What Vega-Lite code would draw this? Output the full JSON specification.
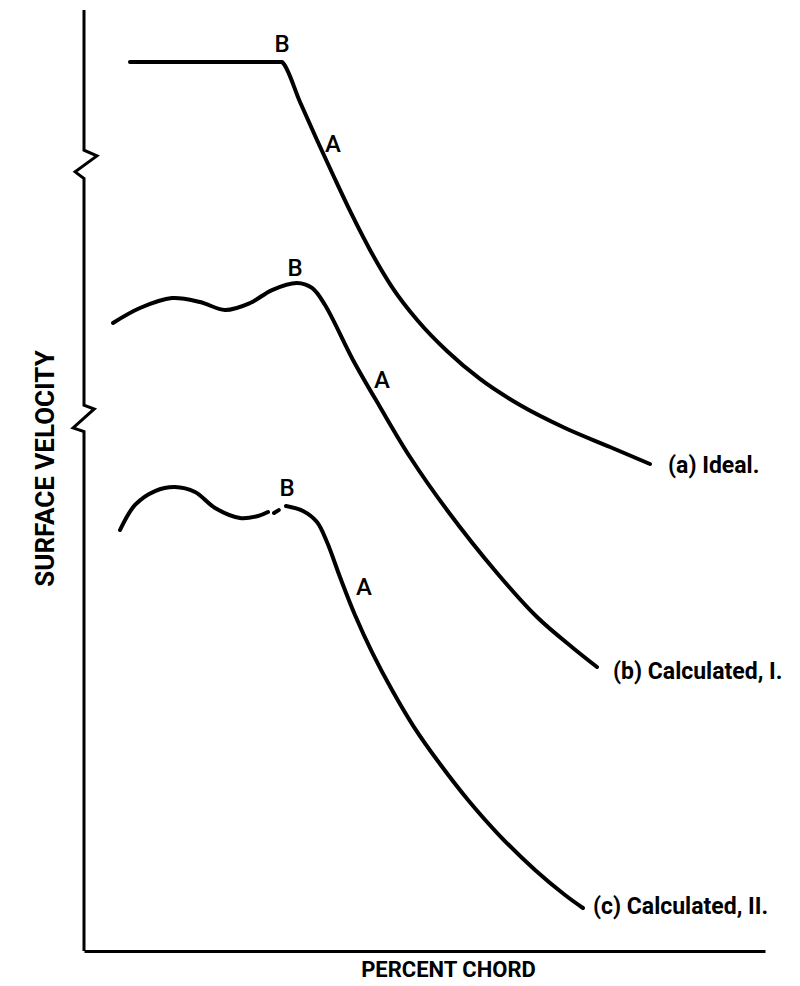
{
  "$schema": "https://vega.github.io/schema/vega-lite/v6.json",
  "width": 681,
  "height": 941,
  "autosize": "none",
  "padding": {"left": 84, "top": 10, "right": 35, "bottom": 35},
  "background": "white",
  "config": {
    "view": {"stroke": null},
    "font": "Roboto, Liberation Sans, sans-serif"
  },
  "datasets": {
    "axisLine": [
      {"seq": 1, "x": 0, "v": 100},
      {"seq": 2, "x": 0, "v": 85.1},
      {"seq": 3, "x": 1.9, "v": 84.5},
      {"seq": 4, "x": -1.3, "v": 82.8},
      {"seq": 5, "x": 0, "v": 82.1},
      {"seq": 6, "x": 0, "v": 58.0},
      {"seq": 7, "x": 1.5, "v": 57.6},
      {"seq": 8, "x": -1.6, "v": 55.6},
      {"seq": 9, "x": 0, "v": 55.2},
      {"seq": 10, "x": 0, "v": 0}
    ],
    "ideal": [
      {"seg": "a", "x": 6.75, "v": 94.47},
      {"seg": "a", "x": 29.07, "v": 94.47},
      {"seg": "a", "x": 29.22, "v": 94.37},
      {"seg": "a", "x": 31.72, "v": 90.22},
      {"seg": "a", "x": 34.21, "v": 86.18},
      {"seg": "a", "x": 36.71, "v": 82.25},
      {"seg": "a", "x": 39.21, "v": 78.43},
      {"seg": "a", "x": 42.0, "v": 74.5},
      {"seg": "a", "x": 45.23, "v": 70.56},
      {"seg": "a", "x": 49.05, "v": 66.95},
      {"seg": "a", "x": 53.3, "v": 63.76},
      {"seg": "a", "x": 58.15, "v": 60.79},
      {"seg": "a", "x": 64.02, "v": 58.02},
      {"seg": "a", "x": 70.63, "v": 55.58},
      {"seg": "a", "x": 77.24, "v": 53.56},
      {"seg": "a", "x": 83.11, "v": 51.75}
    ],
    "calculated": [
      {"seg": "b", "x": 4.26, "v": 66.74},
      {"seg": "b", "x": 8.22, "v": 68.33},
      {"seg": "b", "x": 12.92, "v": 69.39},
      {"seg": "b", "x": 17.03, "v": 68.97},
      {"seg": "b", "x": 20.7, "v": 68.12},
      {"seg": "b", "x": 24.38, "v": 68.86},
      {"seg": "b", "x": 27.61, "v": 70.24},
      {"seg": "b", "x": 31.28, "v": 70.99},
      {"seg": "b", "x": 33.48, "v": 70.46},
      {"seg": "b", "x": 35.39, "v": 68.65},
      {"seg": "b", "x": 39.5, "v": 62.81},
      {"seg": "b", "x": 43.47, "v": 57.81},
      {"seg": "b", "x": 47.87, "v": 52.5},
      {"seg": "b", "x": 53.3, "v": 46.87},
      {"seg": "b", "x": 60.65, "v": 40.17},
      {"seg": "b", "x": 66.52, "v": 35.49},
      {"seg": "b", "x": 71.81, "v": 32.2},
      {"seg": "b", "x": 75.33, "v": 30.18},

      {"seg": "c1", "x": 5.29, "v": 44.74},
      {"seg": "c1", "x": 7.49, "v": 47.4},
      {"seg": "c1", "x": 10.43, "v": 48.88},
      {"seg": "c1", "x": 13.36, "v": 49.31},
      {"seg": "c1", "x": 16.3, "v": 48.78},
      {"seg": "c1", "x": 19.24, "v": 47.08},
      {"seg": "c1", "x": 22.91, "v": 46.02},
      {"seg": "c1", "x": 25.55, "v": 46.23},
      {"seg": "c1", "x": 27.02, "v": 46.65},

      {"seg": "c0", "x": 27.9, "v": 46.55},
      {"seg": "c0", "x": 28.6, "v": 46.85},

      {"seg": "c2", "x": 29.66, "v": 47.29},
      {"seg": "c2", "x": 32.16, "v": 46.76},
      {"seg": "c2", "x": 34.21, "v": 45.59},
      {"seg": "c2", "x": 35.68, "v": 43.46},
      {"seg": "c2", "x": 37.59, "v": 39.74},
      {"seg": "c2", "x": 39.79, "v": 35.71},
      {"seg": "c2", "x": 42.29, "v": 31.77},
      {"seg": "c2", "x": 45.23, "v": 27.74},
      {"seg": "c2", "x": 48.46, "v": 23.8},
      {"seg": "c2", "x": 52.28, "v": 19.87},
      {"seg": "c2", "x": 56.39, "v": 16.05},
      {"seg": "c2", "x": 61.09, "v": 12.22},
      {"seg": "c2", "x": 66.23, "v": 8.61},
      {"seg": "c2", "x": 70.63, "v": 5.95},
      {"seg": "c2", "x": 73.27, "v": 4.57}
    ],
    "points": [
      {"label": "B", "x": 29.07, "v": 96.28},
      {"label": "A", "x": 36.56, "v": 85.65},
      {"label": "B", "x": 30.98, "v": 72.48},
      {"label": "A", "x": 43.76, "v": 60.57},
      {"label": "B", "x": 29.81, "v": 49.1},
      {"label": "A", "x": 41.12, "v": 38.58}
    ],
    "captions": [
      {"label": "(a) Ideal.", "x": 85.76, "v": 51.54},
      {"label": "(b) Calculated, I.", "x": 77.68, "v": 29.65},
      {"label": "(c) Calculated, II.", "x": 74.74, "v": 4.68}
    ]
  },
  "encoding": {
    "x": {
      "field": "x",
      "type": "quantitative",
      "scale": {"domain": [0, 100], "nice": false, "zero": false},
      "axis": {
        "domain": true,
        "domainColor": "black",
        "domainWidth": 3,
        "ticks": false,
        "labels": false,
        "grid": false,
        "title": "PERCENT CHORD",
        "titleFontSize": 22,
        "titleFontWeight": "bold",
        "titleColor": "black",
        "titleX": 364,
        "titleY": 18,
        "titleAlign": "center",
        "titleBaseline": "middle"
      }
    },
    "y": {
      "field": "v",
      "type": "quantitative",
      "scale": {"domain": [0, 100], "nice": false, "zero": false},
      "axis": {
        "domain": false,
        "ticks": false,
        "labels": false,
        "grid": false,
        "title": "SURFACE VELOCITY",
        "titleFontSize": 26,
        "titleFontWeight": "bold",
        "titleColor": "black",
        "titleAngle": -90,
        "titleX": -39,
        "titleY": 458,
        "titleAlign": "center",
        "titleBaseline": "middle"
      }
    }
  },
  "layer": [
    {
      "data": {"name": "axisLine"},
      "mark": {"type": "line", "color": "black", "strokeWidth": 3, "strokeJoin": "miter"},
      "encoding": {"order": {"field": "seq", "type": "quantitative"}}
    },
    {
      "data": {"name": "ideal"},
      "mark": {"type": "line", "color": "black", "strokeWidth": 4, "interpolate": "monotone", "strokeCap": "round"},
      "encoding": {"detail": {"field": "seg", "type": "nominal"}}
    },
    {
      "data": {"name": "calculated"},
      "mark": {"type": "line", "color": "black", "strokeWidth": 4, "interpolate": "catmull-rom", "strokeCap": "round"},
      "encoding": {"detail": {"field": "seg", "type": "nominal"}}
    },
    {
      "data": {"name": "points"},
      "mark": {"type": "text", "fontSize": 24, "fontWeight": 500, "color": "black", "align": "center", "baseline": "middle"},
      "encoding": {"text": {"field": "label", "type": "nominal"}}
    },
    {
      "data": {"name": "captions"},
      "mark": {"type": "text", "fontSize": 23, "fontWeight": "bold", "color": "black", "align": "left", "baseline": "middle"},
      "encoding": {"text": {"field": "label", "type": "nominal"}}
    }
  ]
}
